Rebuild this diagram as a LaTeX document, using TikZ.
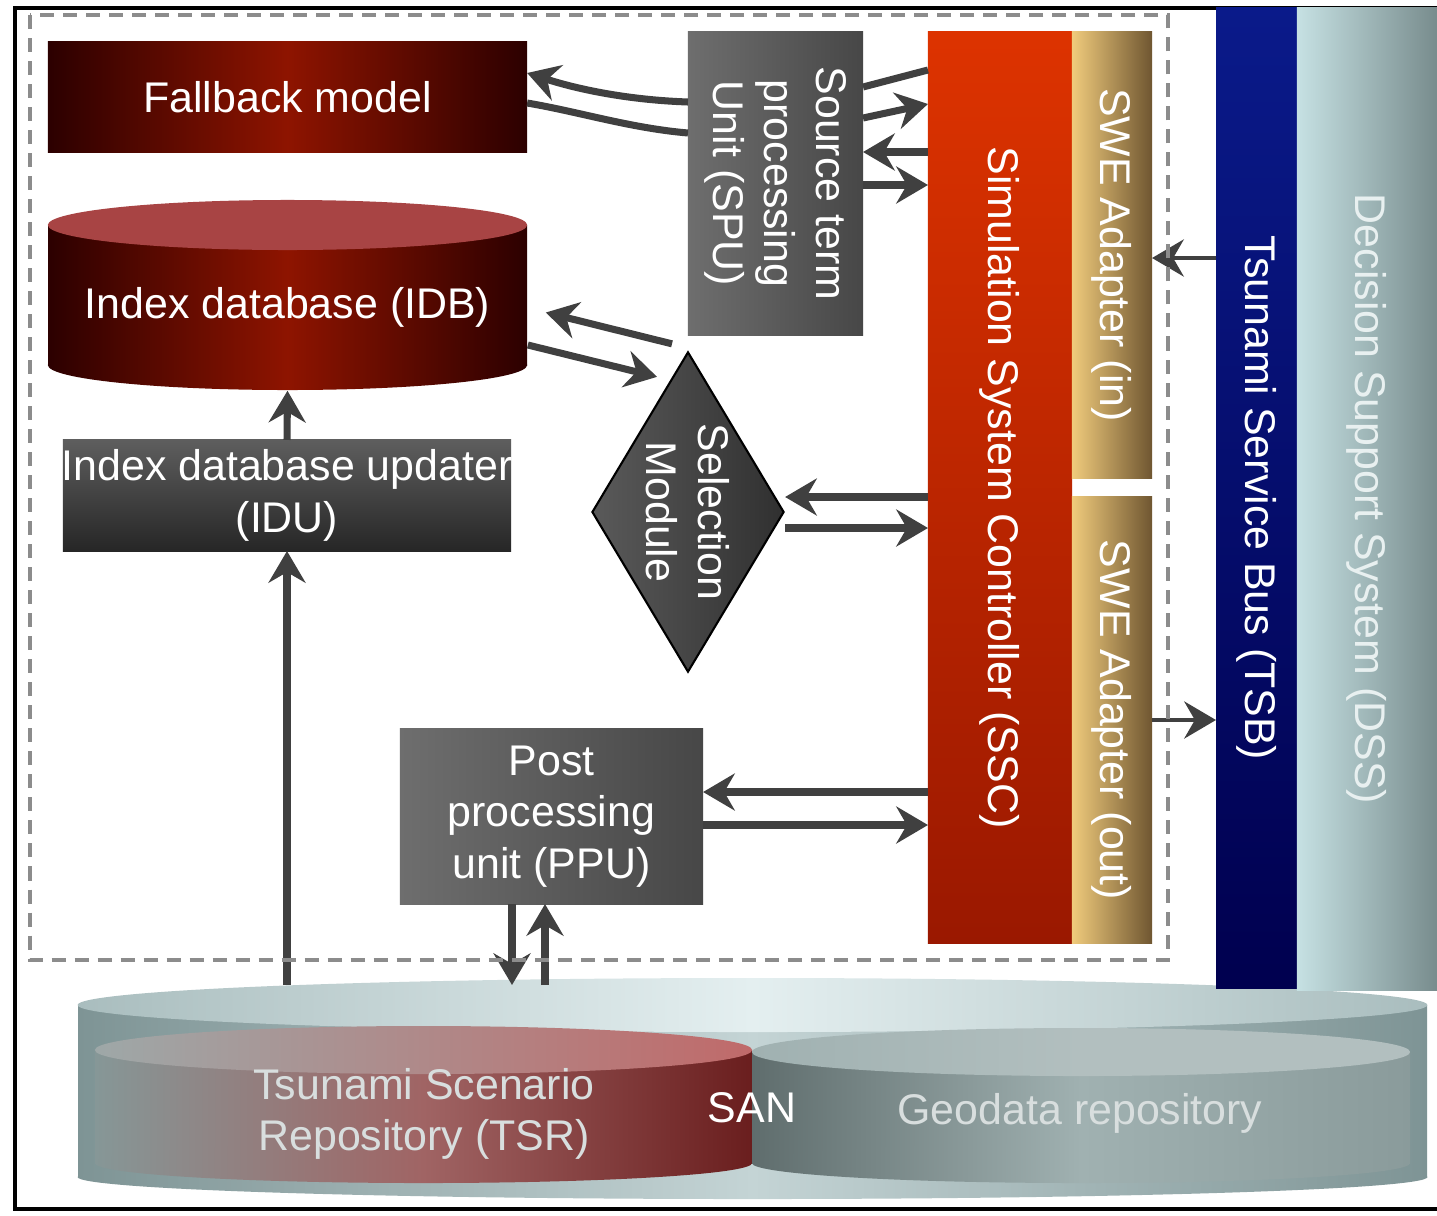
\documentclass[tikz,border=0pt]{standalone}
\usepackage{fontspec}
\setmainfont{Liberation Sans}
\usepackage{xcolor}
\usetikzlibrary{shapes.geometric, arrows.meta, positioning, calc}

\definecolor{arrowgray}{HTML}{404040}
\definecolor{dashgray}{HTML}{8C8C8C}
\definecolor{bloodred}{HTML}{8E1400}
\definecolor{darkred}{HTML}{2C0000}
\definecolor{idbtop}{HTML}{A84444}
\definecolor{boxlight}{HTML}{6E6E6E}
\definecolor{boxdark}{HTML}{474747}
\definecolor{idutop}{HTML}{5E5E5E}
\definecolor{idubot}{HTML}{262626}
\definecolor{selgray}{HTML}{5A5A5A}
\definecolor{seldark}{HTML}{303030}
\definecolor{ssctop}{HTML}{DD3300}
\definecolor{sscbot}{HTML}{9A1800}
\definecolor{swelight}{HTML}{F0CB7C}
\definecolor{swedark}{HTML}{6F5631}
\definecolor{tsbtop}{HTML}{0A1A8A}
\definecolor{tsbbot}{HTML}{00004F}
\definecolor{dsslight}{HTML}{C6E1E3}
\definecolor{dssdark}{HTML}{788C8D}
\definecolor{dsstext}{HTML}{E8F0F0}
\definecolor{sanlight}{HTML}{E4EFF0}
\definecolor{sanmid}{HTML}{C4D4D5}
\definecolor{sanedge}{HTML}{7E9495}
\definecolor{santopedge}{HTML}{A9BDBE}
\definecolor{tsrgray}{HTML}{869797}
\definecolor{tsrrose}{HTML}{A06464}
\definecolor{tsrdark}{HTML}{6A1E1E}
\definecolor{tsrtopgray}{HTML}{9EA8A8}
\definecolor{tsrtopred}{HTML}{C06A6A}
\definecolor{geodark}{HTML}{5F6D6D}
\definecolor{geolight}{HTML}{A0B1B1}
\definecolor{georight}{HTML}{8A9B9B}
\definecolor{geotop}{HTML}{B2BFBF}
\definecolor{storetext}{HTML}{D8DEDE}

\begin{document}
\begin{tikzpicture}[x=0.01cm, y=-0.01cm,
  lbl/.style={text=white, font=\fontsize{12.2}{14.7}\selectfont, align=center, inner sep=0pt},
  vlbl/.style={lbl, rotate=-90},
  box/.style={inner sep=0pt, outer sep=0pt},
  arr/.style={draw=arrowgray, line width=2pt, -{Stealth[length=9pt, width=10.5pt, inset=3pt]}},
  thinarr/.style={arr, line width=1.4pt},
  link/.style={draw=arrowgray, line width=2pt},
]
\useasboundingbox (0,0) rectangle (1437,1215);
\fill[white] (0,0) rectangle (1437,1215);

% frame
\draw[line width=1pt] (1440,8) -- (15,8) -- (15,1209) -- (1440,1209);

% storage area network
\shade[left color=sanedge, right color=sanedge, middle color=sanmid] (78,1005) rectangle (1427,1177);
\shade[left color=sanedge, right color=sanedge, middle color=sanmid] (752.5,1177) ellipse [x radius=6.745cm, y radius=0.22cm];
\shade[left color=santopedge, right color=santopedge, middle color=sanlight] (752.5,1005) ellipse [x radius=6.745cm, y radius=0.27cm];
\shade[left color=tsrgray, right color=tsrdark, middle color=tsrrose] (95,1050) rectangle (752,1163);
\shade[left color=tsrgray, right color=tsrdark, middle color=tsrrose] (423.5,1163) ellipse [x radius=3.285cm, y radius=0.2cm];
\shade[left color=tsrtopgray, right color=tsrtopred] (423.5,1050) ellipse [x radius=3.285cm, y radius=0.24cm];
\shade[left color=geodark, right color=georight, middle color=geolight] (752,1052) rectangle (1410,1163);
\shade[left color=geodark, right color=georight, middle color=geolight] (1081,1163) ellipse [x radius=3.29cm, y radius=0.2cm];
\shade[left color=geolight, right color=geotop, middle color=geotop] (1081,1052) ellipse [x radius=3.29cm, y radius=0.24cm];
\node[lbl, text=storetext] (tsr) at (424,1114) {Tsunami Scenario\\Repository (TSR)};
\node[lbl] (san) at (752,1108) {SAN};
\node[lbl, text=storetext] (geo) at (1080,1113) {Geodata repository};
\coordinate (santop) at (752,985);

% index database cylinder
\shade[left color=darkred, right color=darkred, middle color=bloodred] (48,225) rectangle (527,365);
\shade[left color=darkred, right color=darkred, middle color=bloodred] (287.5,365) ellipse [x radius=2.395cm, y radius=0.25cm];
\fill[idbtop] (287.5,225) ellipse [x radius=2.395cm, y radius=0.25cm];
\node[lbl, minimum width=4.79cm, minimum height=1.65cm] (idb) at (287.5,307.5) {Index database (IDB)};

% boxes
\node[box, lbl, minimum width=4.79cm, minimum height=1.1cm, left color=darkred, right color=darkred, middle color=bloodred] (fallback) at (287.5,97) {Fallback model};
\node[box, minimum width=4.48cm, minimum height=1.11cm, top color=idutop, bottom color=idubot] (idu) at (287,495.5) {};
\node[lbl] (idu-t) at (idu) {Index database updater\\(IDU)};
\node[box, minimum width=1.75cm, minimum height=3.03cm, left color=boxlight, right color=boxdark] (spu) at (775.5,183.5) {};
\node[vlbl] (spu-t) at (spu) {Source term\\processing\\Unit (SPU)};
\node[diamond, draw=black, line width=0.6pt, minimum width=1.92cm, minimum height=3.2cm, inner sep=0pt, left color=selgray, right color=seldark] (sel) at (688,512) {};
\node[vlbl] (sel-t) at (sel) {Selection\\Module};
\node[box, lbl, minimum width=3.03cm, minimum height=1.75cm, left color=boxlight, right color=boxdark] (ppu) at (551.5,816.5) {Post\\processing\\unit (PPU)};
\node[box, minimum width=1.44cm, minimum height=9.11cm, top color=ssctop, bottom color=sscbot] (ssc) at (1000,487.5) {};
\node[vlbl] (ssc-t) at (ssc) {Simulation System Controller (SSC)};
\node[box, minimum width=0.8cm, minimum height=4.46cm, left color=swelight, right color=swedark] (swein) at (1112,255) {};
\node[vlbl] (swein-t) at (swein) {SWE Adapter (in)};
\node[box, minimum width=0.8cm, minimum height=4.46cm, left color=swelight, right color=swedark] (sweout) at (1112,720) {};
\node[vlbl] (sweout-t) at (sweout) {SWE Adapter (out)};
\node[box, minimum width=0.81cm, minimum height=9.8cm, top color=tsbtop, bottom color=tsbbot] (tsb) at (1256.5,498) {};
\node[vlbl] (tsb-t) at (tsb) {Tsunami Service Bus (TSB)};
\node[box, minimum width=1.4cm, minimum height=9.82cm, left color=dsslight, right color=dssdark] (dss) at (1367,499) {};
\node[vlbl, text=dsstext] (dss-t) at (dss) {Decision Support System (DSS)};

% connectors
\draw[arr] (spu.west |- 0,102) .. controls (630,100) and (580,90) .. (fallback.east |- 0,73);
\draw[link] (fallback.east |- 0,103) .. controls (580,112) and (630,128) .. (spu.west |- 0,133);
\draw[link] (ssc.west |- 0,70) -- (spu.east |- 0,87);
\draw[arr] (spu.east |- 0,118) -- (ssc.west |- 0,104);
\draw[arr] (ssc.west |- 0,152) -- (spu.east |- 0,152);
\draw[arr] (spu.east |- 0,185) -- (ssc.west |- 0,185);
\draw[arr] ($(sel.north)+(-16,-7)$) -- ($(idb.east)+(18,5)$);
\draw[arr] (idb.east |- 0,345) -- ($(sel.north)+(-31,26)$);
\draw[arr] (ssc.west |- 0,497) -- (sel.east |- 0,497);
\draw[arr] (sel.east |- 0,528) -- (ssc.west |- 0,528);
\draw[arr] (ssc.west |- 0,792) -- (ppu.east |- 0,792);
\draw[arr] (ppu.east |- 0,825) -- (ssc.west |- 0,825);
\draw[arr] (idu.south |- santop) -- (idu.south);
\draw[arr] (idu.north) -- (idb.south);
\draw[arr] (ppu.south -| 512,0) -- (512,0 |- santop);
\draw[arr] (545,0 |- santop) -- (ppu.south -| 545,0);
\draw[thinarr] (tsb.west |- 0,258) -- (swein.east |- 0,258);
\draw[thinarr] (sweout.east |- 0,720) -- (tsb.west |- 0,720);

% dashed border of the simulation part
\draw[dashgray, line width=0.9pt, dash pattern=on 0.14cm off 0.09cm] (30,15) rectangle (1168,960);
\end{tikzpicture}
\end{document}
